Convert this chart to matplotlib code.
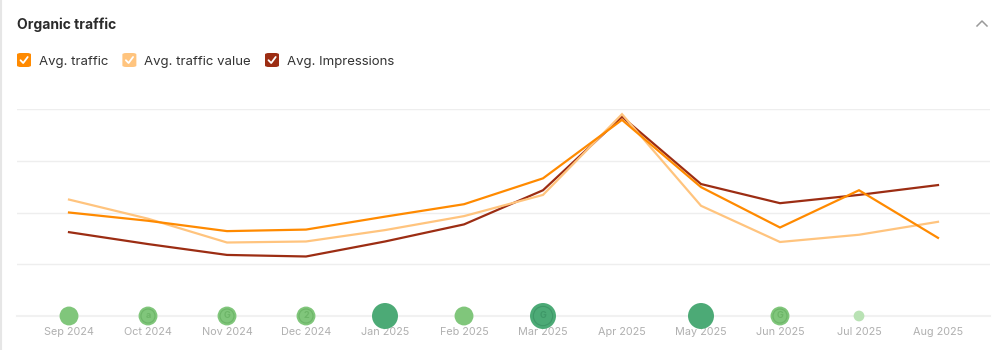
"""Organic traffic card: three avg. lines with update markers along the bottom."""
import matplotlib
matplotlib.use('Agg')
import matplotlib.pyplot as plt
from matplotlib.patches import FancyBboxPatch
from matplotlib.lines import Line2D

plt.rcParams['font.family'] = ['Inter', 'DejaVu Sans']

# Data (relative units, gridlines at 0..4)
months = ['Sep 2024', 'Oct 2024', 'Nov 2024', 'Dec 2024', 'Jan 2025', 'Feb 2025',
          'Mar 2025', 'Apr 2025', 'May 2025', 'Jun 2025', 'Jul 2025', 'Aug 2025']
avg_traffic = [2.00, 1.84, 1.64, 1.67, 1.92, 2.16, 2.66, 3.79, 2.49, 1.71, 2.43, 1.51]
avg_traffic_value = [2.25, 1.88, 1.42, 1.44, 1.66, 1.93, 2.34, 3.90, 2.13, 1.43, 1.57, 1.82]
avg_impressions = [1.62, 1.39, 1.18, 1.15, 1.44, 1.77, 2.43, 3.85, 2.55, 2.18, 2.34, 2.53]

# update markers on the baseline: size class and icon letter
marker_kind = ['mid', 'mid', 'mid', 'mid', 'big', 'mid', 'big', None, 'big', 'mid', 'small', None]
marker_icon = ['', 'a', 'G', '2', '', '', 'G', '', '', 'G', '', '']

series = [
    ('Avg. traffic', avg_traffic, '#ff8a00'),
    ('Avg. traffic value', avg_traffic_value, '#ffc47e'),
    ('Avg. Impressions', avg_impressions, '#9c2d13'),
]
marker_style = {
    'big': (350, '#4caa76', '#3f9868'),
    'mid': (185, '#80c67b', '#6db568'),
    'small': (60, '#b9e2b4', '#b9e2b4'),
}

W, H = 1006, 350
fig = plt.figure(figsize=(W / 100, H / 100), dpi=100)


def fx(px):
    return px / W


def fy(py):
    return 1 - py / H


# card border on the left
fig.add_artist(Line2D([fx(0.8), fx(0.8)], [0, 1], color='#e6e6e6', lw=1.5))

# header
fig.text(fx(17), fy(25), 'Organic traffic', fontsize=10, fontweight='bold',
         color='#2b2b2b', va='center', ha='left')
fig.add_artist(Line2D([fx(977), fx(982), fx(987)], [fy(26), fy(21), fy(26)],
                      color='#9a9a9a', lw=1.1))

# legend checkboxes
lx = 17
for name, _, color in series:
    box = FancyBboxPatch((fx(lx), fy(67)), fx(14), 14 / H,
                         boxstyle='round,pad=0,rounding_size=0.004',
                         transform=fig.transFigure, facecolor=color, edgecolor='none')
    fig.add_artist(box)
    fig.add_artist(Line2D([fx(lx + 3.5), fx(lx + 6.2), fx(lx + 10.7)],
                          [fy(60.2), fy(63), fy(57)], color='white', lw=1.3,
                          solid_capstyle='round', solid_joinstyle='round'))
    t = fig.text(fx(lx + 22), fy(61.5), name, fontsize=9.5, color='#333333',
                 va='center', ha='left')
    fig.canvas.draw()
    bb = t.get_window_extent()
    lx = bb.x1 + 14

# plot area: x index 0 at 69 px, step 79 px; y 0 at 316 px, 4 at 109 px
x0, step = 69, 79
left_px, right_px = 17, 990
top_px, bot_px = 109, 316
ax = fig.add_axes([fx(left_px), fy(bot_px), fx(right_px - left_px),
                   (bot_px - top_px) / H])
ax.set_xlim((left_px - x0) / step, (right_px - x0) / step)
ax.set_ylim(0, 4)
for s in ax.spines.values():
    s.set_visible(False)
ax.set_yticks([])
ax.tick_params(length=0)
for g in [1, 2, 3, 4]:
    ax.axhline(g, color='#eeeeee', lw=1, zorder=0)
ax.axhline(0, color='#f1f1f1', lw=1.5, zorder=0, clip_on=False)

xs = list(range(len(months)))
for name, vals, color in reversed(series):
    ax.plot(xs, vals, color=color, lw=1.6, clip_on=False, zorder=3,
            solid_joinstyle='miter')

for i, kind in enumerate(marker_kind):
    if kind is None:
        continue
    size, fc, ic = marker_style[kind]
    ax.scatter([i], [0], s=size, color=fc, edgecolors='none', zorder=4, clip_on=False)
    if marker_icon[i]:
        ax.scatter([i], [0], s=size * 0.55, facecolors='none', edgecolors=ic,
                   linewidths=0.8, zorder=5, clip_on=False)
        ax.text(i, 0, marker_icon[i], fontsize=6.5, color=ic, ha='center',
                va='center', zorder=6, fontweight='bold')

ax.set_xticks(xs)
ax.set_xticklabels(months, fontsize=7.8, color='#b0b0b0')
ax.tick_params(axis='x', pad=8)

fig.savefig('out.png', dpi=100)
